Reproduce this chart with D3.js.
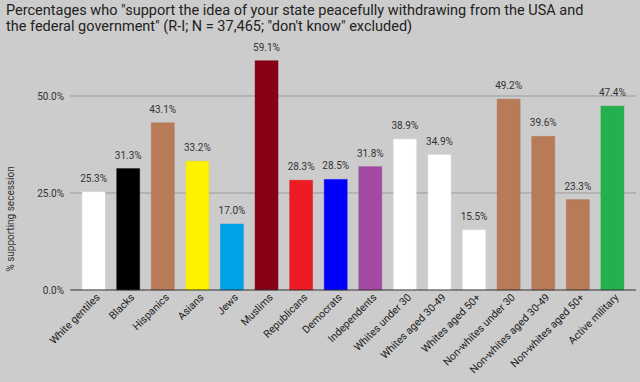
<!DOCTYPE html>
<html>
<head>
<meta charset="utf-8">
<script src="https://cdn.jsdelivr.net/npm/d3@7"></script>
<style>
  body { margin: 0; background: #cccccc; }
  svg { display: block; font-family: Roboto, "Noto Sans", sans-serif; }
</style>
</head>
<body>
<svg width="640" height="382"></svg>
<script>
// categories and values
const groups = ["White gentiles", "Blacks", "Hispanics", "Asians", "Jews", "Muslims",
  "Republicans", "Democrats", "Independents", "Whites under 30", "Whites aged 30-49",
  "Whites aged 50+", "Non-whites under 30", "Non-whites aged 30-49",
  "Non-whites aged 50+", "Active military"];
const support = [25.3, 31.3, 43.1, 33.2, 17.0, 59.1, 28.3, 28.5, 31.8, 38.9, 34.9,
  15.5, 49.2, 39.6, 23.3, 47.4];
const barColors = ["#ffffff", "#000000", "#b97a57", "#fff200", "#00a2e8", "#880015",
  "#ed1c24", "#0000ff", "#a349a4", "#ffffff", "#ffffff", "#ffffff", "#b97a57",
  "#b97a57", "#b97a57", "#22b14c"];
const yTicks = [0, 25, 50];

const titleLines = [
  'Percentages who "support the idea of your state peacefully withdrawing from the USA and',
  'the federal government" (R-I; N = 37,465; "don\'t know" excluded)'
];

const svg = d3.select('svg');
const margin = { left: 70, right: 4, top: 40, bottom: 92 };
const width = 640, height = 382;
const baseY = 290;

const x = d3.scaleBand()
  .domain(groups)
  .range([margin.left, width - margin.right])
  .paddingInner(0.335)
  .paddingOuter(0.35);

const y = d3.scaleLinear()
  .domain([0, 50])
  .range([baseY, 96]);

// title
svg.append('g').selectAll('text')
  .data(titleLines)
  .join('text')
  .attr('x', 6)
  .attr('y', (d, i) => 15 + i * 16)
  .attr('font-size', 14.5)
  .attr('fill', '#222')
  .text(d => d);

// gridlines
svg.append('g').selectAll('line')
  .data(yTicks.filter(t => t > 0))
  .join('line')
  .attr('x1', margin.left).attr('x2', width - margin.right)
  .attr('y1', d => y(d)).attr('y2', d => y(d))
  .attr('stroke', '#999').attr('stroke-width', 1);

// y tick labels
svg.append('g').selectAll('text')
  .data(yTicks)
  .join('text')
  .attr('x', 64)
  .attr('y', d => y(d) + 4)
  .attr('text-anchor', 'end')
  .attr('font-size', 10)
  .attr('fill', '#333')
  .text(d => d.toFixed(1) + '%');

// y axis title
svg.append('text')
  .attr('transform', 'translate(14,219) rotate(-90)')
  .attr('text-anchor', 'middle')
  .attr('font-size', 10)
  .attr('fill', '#333')
  .text('% supporting secession');

// bars
svg.append('g').selectAll('rect')
  .data(groups)
  .join('rect')
  .attr('x', d => x(d))
  .attr('width', x.bandwidth())
  .attr('y', (d, i) => y(support[i]))
  .attr('height', (d, i) => baseY - y(support[i]))
  .attr('fill', (d, i) => barColors[i])
  .attr('stroke', (d, i) => d3.color(barColors[i]).darker(0.3))
  .attr('stroke-opacity', 0.4);

// value labels
svg.append('g').selectAll('text')
  .data(groups)
  .join('text')
  .attr('x', d => x(d) + x.bandwidth() / 2)
  .attr('y', (d, i) => y(support[i]) - 10)
  .attr('text-anchor', 'middle')
  .attr('font-size', 10)
  .attr('fill', '#333')
  .text((d, i) => support[i].toFixed(1) + '%');

// baseline
svg.append('line')
  .attr('x1', margin.left).attr('x2', width - margin.right)
  .attr('y1', baseY).attr('y2', baseY)
  .attr('stroke', '#333').attr('stroke-width', 1);

// x labels rotated
svg.append('g').selectAll('text')
  .data(groups)
  .join('text')
  .attr('transform', d => `translate(${x(d) + x.bandwidth() / 2 + 7},${baseY + 8}) rotate(-45)`)
  .attr('text-anchor', 'end')
  .attr('font-size', 10.5)
  .attr('fill', '#222')
  .text(d => d);
</script>
</body>
</html>
